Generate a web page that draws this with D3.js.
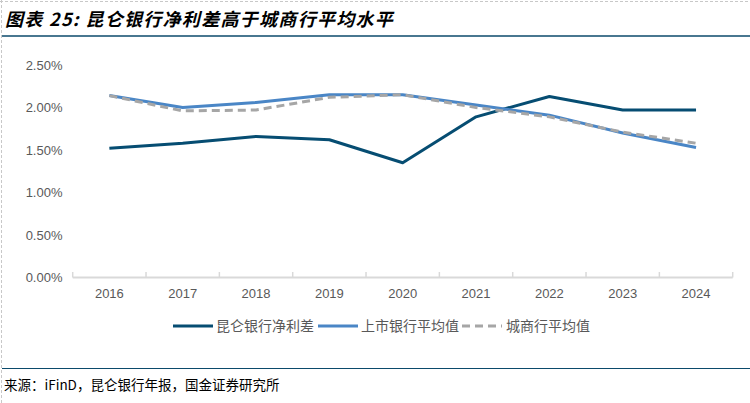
<!DOCTYPE html>
<meta charset="utf-8">
<script src="https://d3js.org/d3.v7.min.js"></script>
<style>
  body { margin: 0; background: #fff; }
  svg { display: block; }
</style>
<svg id="chart" width="750" height="403"></svg>
<script>
// data (percent)
var years = ["2016", "2017", "2018", "2019", "2020", "2021", "2022", "2023", "2024"];
var kunlun = [1.52, 1.58, 1.66, 1.62, 1.35, 1.89, 2.13, 1.97, 1.97];
var listed = [2.14, 2.00, 2.06, 2.15, 2.15, 2.03, 1.91, 1.70, 1.53];
var cityBanks = [2.14, 1.96, 1.97, 2.12, 2.15, 2.00, 1.89, 1.71, 1.58];
var yTicks = [0, 0.5, 1.0, 1.5, 2.0, 2.5];

var svg = d3.select("#chart");

// frame: dashed top/left, blue rules
svg.append("line").attr("x1", 0).attr("x2", 750).attr("y1", 1.5).attr("y2", 1.5)
  .attr("stroke", "#c8c8c8").attr("stroke-dasharray", "3,2");
svg.append("line").attr("x1", 1.5).attr("x2", 1.5).attr("y1", 0).attr("y2", 403)
  .attr("stroke", "#c8c8c8").attr("stroke-dasharray", "3,2");
svg.append("line").attr("x1", 2).attr("x2", 750).attr("y1", 36).attr("y2", 36)
  .attr("stroke", "#0b4a6b").attr("stroke-width", 1.5);
svg.append("line").attr("x1", 2).attr("x2", 750).attr("y1", 368.5).attr("y2", 368.5)
  .attr("stroke", "#0b4a6b").attr("stroke-width", 1.2);

// title
svg.append("text")
  .attr("x", 5).attr("y", 26)
  .style("font-family", "'Noto Sans CJK SC', sans-serif")
  .style("font-size", "18px")
  .style("font-weight", "bold")
  .style("font-style", "italic")
  .style("letter-spacing", "1.3px")
  .attr("fill", "#000")
  .text("图表 25: 昆仑银行净利差高于城商行平均水平");

// source
svg.append("text")
  .attr("x", 4).attr("y", 390)
  .style("font-family", "'Noto Sans CJK SC', sans-serif")
  .style("font-size", "13.5px")
  .attr("fill", "#000")
  .text("来源：iFinD，昆仑银行年报，国金证券研究所");

var plotLeft = 72.7, plotRight = 732.7, plotTop = 65, plotBottom = 277.5;

var x = d3.scaleBand().domain(years).range([plotLeft, plotRight]);
var y = d3.scaleLinear().domain([0, 2.5]).range([plotBottom, plotTop]);

// y labels
svg.append("g").selectAll("text")
  .data(yTicks).enter().append("text")
  .attr("x", 62.5)
  .attr("y", function (d) { return y(d); })
  .attr("dy", "0.35em")
  .attr("text-anchor", "end")
  .style("font-family", "'Liberation Sans', Arial, sans-serif")
  .style("font-size", "13px")
  .attr("fill", "#595959")
  .text(function (d) { return d.toFixed(2) + "%"; });

// x axis
var xAxis = svg.append("g")
  .attr("transform", "translate(0," + plotBottom + ")")
  .call(d3.axisBottom(x).tickSize(0).tickPadding(11));
xAxis.select(".domain").remove();
xAxis.selectAll("text")
  .style("font-family", "'Liberation Sans', Arial, sans-serif")
  .style("font-size", "13px")
  .attr("fill", "#595959");

svg.append("line").attr("x1", plotLeft).attr("x2", plotRight).attr("y1", plotBottom).attr("y2", plotBottom)
  .attr("stroke", "#d9d9d9").attr("stroke-width", 2);
var bounds = years.map(function (d) { return x(d); }).concat([plotRight]);
svg.append("g").selectAll("line")
  .data(bounds).enter().append("line")
  .attr("x1", function (d) { return d; }).attr("x2", function (d) { return d; })
  .attr("y1", plotBottom - 5.5).attr("y2", plotBottom)
  .attr("stroke", "#d9d9d9").attr("stroke-width", 1.5);

var line = d3.line()
  .x(function (d, i) { return x(years[i]) + x.bandwidth() / 2; })
  .y(function (d) { return y(d); });

var series = [
  { name: "昆仑银行净利差", values: kunlun, color: "#064d72", dash: null },
  { name: "上市银行平均值", values: listed, color: "#4a86c6", dash: null },
  { name: "城商行平均值", values: cityBanks, color: "#a6a6a6", dash: "8,5" }
];

svg.append("g").selectAll("path")
  .data(series).enter().append("path")
  .attr("d", function (d) { return line(d.values); })
  .attr("fill", "none")
  .attr("stroke", function (d) { return d.color; })
  .attr("stroke-width", 3)
  .attr("stroke-dasharray", function (d) { return d.dash; })
  .attr("stroke-linejoin", "round");

// legend
var legendX = [173, 318, 462];
var legend = svg.append("g").selectAll("g")
  .data(series).enter().append("g")
  .attr("transform", function (d, i) { return "translate(" + legendX[i] + ",326)"; });
legend.append("line")
  .attr("x1", 0).attr("x2", 40).attr("y1", 0).attr("y2", 0)
  .attr("stroke", function (d) { return d.color; })
  .attr("stroke-width", 3)
  .attr("stroke-dasharray", function (d) { return d.dash ? "8,5" : null; });
legend.append("text")
  .attr("x", function (d, i) { return i === 2 ? 44 : 43; })
  .attr("y", 0)
  .attr("dy", "0.36em")
  .style("font-family", "'Noto Sans CJK SC', sans-serif")
  .style("font-size", "14px")
  .attr("fill", "#595959")
  .text(function (d) { return d.name; });
</script>
